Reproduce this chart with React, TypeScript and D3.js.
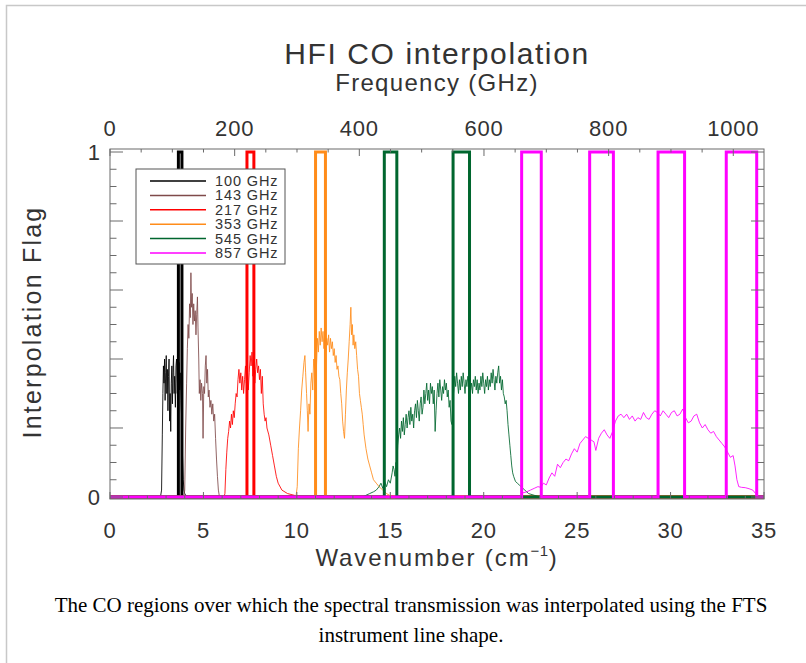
import * as d3 from "d3";

// wavenumber (cm^-1), transmission
const spec100: [number, number][] = [
  [2.7, 0], [2.76, 0.02], [2.8, 0.18], [2.83, 0.3], [2.86, 0.38], [2.89, 0.33], [2.92, 0.4], [2.95, 0.28],
  [2.98, 0.36], [3.01, 0.41], [3.04, 0.3], [3.07, 0.37], [3.1, 0.25], [3.13, 0.35], [3.16, 0.4], [3.19, 0.22],
  [3.22, 0.3], [3.25, 0.19], [3.28, 0.33], [3.31, 0.38], [3.34, 0.27], [3.37, 0.36], [3.4, 0.41], [3.43, 0.3],
  [3.46, 0.35], [3.5, 0.26], [3.53, 0.38], [3.56, 0.4], [3.6, 0.3], [3.63, 0.37], [3.66, 0.33], [3.7, 0.39],
  [3.73, 0.31], [3.76, 0.36], [3.8, 0.28], [3.84, 0.22], [3.88, 0.12], [3.92, 0.05], [3.96, 0.02], [4.0, 0.01], [4.1, 0],
];
const spec143: [number, number][] = [
  [3.95, 0], [4.0, 0.02], [4.05, 0.2], [4.1, 0.33], [4.14, 0.43], [4.18, 0.5], [4.22, 0.46], [4.26, 0.56],
  [4.3, 0.52], [4.33, 0.65], [4.36, 0.55], [4.4, 0.59], [4.44, 0.5], [4.48, 0.56], [4.52, 0.51], [4.56, 0.54],
  [4.6, 0.47], [4.64, 0.53], [4.68, 0.58], [4.71, 0.49], [4.75, 0.4], [4.78, 0.3], [4.82, 0.34], [4.86, 0.28],
  [4.9, 0.33], [4.95, 0.3], [4.98, 0.17], [5.02, 0.32], [5.06, 0.3], [5.1, 0.38], [5.14, 0.41], [5.18, 0.33],
  [5.22, 0.37], [5.26, 0.29], [5.3, 0.31], [5.35, 0.26], [5.4, 0.28], [5.45, 0.24], [5.5, 0.27], [5.55, 0.22],
  [5.6, 0.24], [5.65, 0.17], [5.7, 0.11], [5.75, 0.06], [5.8, 0.02], [5.86, 0],
];
const spec217: [number, number][] = [
  [6.1, 0], [6.15, 0.01], [6.2, 0.08], [6.25, 0.13], [6.3, 0.17], [6.35, 0.19], [6.4, 0.22], [6.45, 0.2],
  [6.5, 0.24], [6.55, 0.21], [6.6, 0.25], [6.65, 0.23], [6.7, 0.27], [6.75, 0.3], [6.8, 0.29], [6.85, 0.34],
  [6.9, 0.37], [6.95, 0.33], [7.0, 0.36], [7.05, 0.31], [7.1, 0.35], [7.15, 0.3], [7.2, 0.34], [7.25, 0.38],
  [7.3, 0.33], [7.35, 0.37], [7.4, 0.31], [7.45, 0.36], [7.5, 0.41], [7.55, 0.38], [7.6, 0.42], [7.65, 0.35],
  [7.7, 0.39], [7.75, 0.33], [7.8, 0.37], [7.85, 0.4], [7.9, 0.36], [7.95, 0.38], [8.0, 0.34], [8.05, 0.37],
  [8.1, 0.3], [8.15, 0.35], [8.2, 0.27], [8.25, 0.24], [8.3, 0.22], [8.35, 0.23], [8.4, 0.2], [8.5, 0.18],
  [8.6, 0.15], [8.7, 0.12], [8.8, 0.09], [8.9, 0.06], [9.0, 0.04], [9.2, 0.02], [9.5, 0.01], [10.0, 0.003], [10.5, 0],
];
const spec353: [number, number][] = [
  [9.95, 0], [10.02, 0.03], [10.08, 0.14], [10.14, 0.2], [10.2, 0.25], [10.26, 0.31], [10.32, 0.35], [10.38, 0.39],
  [10.43, 0.41], [10.47, 0.36], [10.52, 0.3], [10.56, 0.25], [10.6, 0.19], [10.65, 0.27], [10.7, 0.24], [10.75, 0.33],
  [10.8, 0.36], [10.85, 0.31], [10.9, 0.4], [10.95, 0.37], [11.0, 0.43], [11.05, 0.38], [11.1, 0.46], [11.15, 0.42],
  [11.2, 0.48], [11.25, 0.44], [11.3, 0.49], [11.35, 0.45], [11.4, 0.48], [11.45, 0.43], [11.5, 0.47], [11.55, 0.42],
  [11.6, 0.46], [11.65, 0.44], [11.7, 0.47], [11.75, 0.42], [11.8, 0.46], [11.85, 0.43], [11.9, 0.45], [11.95, 0.41],
  [12.0, 0.43], [12.05, 0.39], [12.1, 0.41], [12.15, 0.37], [12.2, 0.38], [12.25, 0.35], [12.3, 0.34], [12.35, 0.3],
  [12.4, 0.27], [12.45, 0.22], [12.5, 0.19], [12.55, 0.17], [12.6, 0.24], [12.65, 0.31], [12.7, 0.36], [12.75, 0.4],
  [12.8, 0.45], [12.85, 0.5], [12.89, 0.55], [12.93, 0.47], [12.97, 0.5], [13.01, 0.44], [13.05, 0.47], [13.1, 0.43],
  [13.15, 0.45], [13.2, 0.41], [13.25, 0.37], [13.3, 0.35], [13.35, 0.3], [13.4, 0.28], [13.45, 0.26], [13.5, 0.24],
  [13.55, 0.21], [13.6, 0.18], [13.7, 0.14], [13.8, 0.11], [13.9, 0.09], [14.0, 0.07], [14.1, 0.05], [14.25, 0.04],
  [14.4, 0.03], [14.6, 0.02], [14.8, 0.01], [15.1, 0],
];
const spec545: [number, number][] = [
  [13.5, 0], [13.7, 0.005], [13.9, 0.01], [14.1, 0.015], [14.25, 0.02], [14.4, 0.03], [14.5, 0.04], [14.6, 0.025],
  [14.7, 0.045], [14.8, 0.03], [14.9, 0.05], [15.0, 0.04], [15.1, 0.07], [15.15, 0.09], [15.2, 0.08], [15.25, 0.06],
  [15.3, 0.1], [15.35, 0.09], [15.4, 0.15], [15.45, 0.18], [15.5, 0.2], [15.55, 0.17], [15.6, 0.22], [15.65, 0.19],
  [15.7, 0.23], [15.75, 0.18], [15.8, 0.21], [15.85, 0.24], [15.9, 0.2], [15.95, 0.23], [16.0, 0.25], [16.05, 0.21],
  [16.1, 0.26], [16.15, 0.22], [16.2, 0.24], [16.25, 0.2], [16.3, 0.25], [16.35, 0.27], [16.4, 0.23], [16.45, 0.28],
  [16.5, 0.25], [16.55, 0.22], [16.6, 0.27], [16.65, 0.29], [16.7, 0.24], [16.75, 0.26], [16.8, 0.31], [16.85, 0.27],
  [16.9, 0.3], [16.95, 0.33], [17.0, 0.28], [17.05, 0.31], [17.1, 0.27], [17.15, 0.33], [17.2, 0.3], [17.25, 0.32],
  [17.3, 0.27], [17.35, 0.31], [17.4, 0.19], [17.45, 0.25], [17.5, 0.3], [17.55, 0.33], [17.6, 0.29], [17.65, 0.34],
  [17.7, 0.31], [17.75, 0.28], [17.8, 0.32], [17.85, 0.3], [17.9, 0.34], [17.95, 0.31], [18.0, 0.33], [18.05, 0.29],
  [18.1, 0.31], [18.15, 0.26], [18.2, 0.28], [18.25, 0.22], [18.3, 0.21], [18.35, 0.28], [18.4, 0.31], [18.45, 0.35],
  [18.5, 0.32], [18.55, 0.36], [18.6, 0.33], [18.65, 0.3], [18.7, 0.34], [18.75, 0.31], [18.8, 0.35], [18.85, 0.32],
  [18.9, 0.36], [18.95, 0.33], [19.0, 0.3], [19.05, 0.34], [19.1, 0.32], [19.15, 0.35], [19.2, 0.33], [19.25, 0.36],
  [19.3, 0.31], [19.35, 0.33], [19.4, 0.3], [19.45, 0.34], [19.5, 0.32], [19.55, 0.35], [19.6, 0.31], [19.65, 0.34],
  [19.7, 0.3], [19.75, 0.33], [19.8, 0.31], [19.85, 0.35], [19.9, 0.32], [19.95, 0.36], [20.0, 0.33], [20.05, 0.3],
  [20.1, 0.34], [20.15, 0.32], [20.2, 0.35], [20.25, 0.31], [20.3, 0.34], [20.35, 0.32], [20.4, 0.36], [20.45, 0.33],
  [20.5, 0.37], [20.55, 0.34], [20.6, 0.31], [20.65, 0.35], [20.7, 0.33], [20.75, 0.36], [20.8, 0.38], [20.85, 0.33],
  [20.9, 0.35], [20.95, 0.31], [21.0, 0.34], [21.05, 0.3], [21.1, 0.29], [21.15, 0.27], [21.2, 0.28], [21.25, 0.25],
  [21.3, 0.21], [21.35, 0.18], [21.4, 0.15], [21.45, 0.12], [21.5, 0.09], [21.55, 0.07], [21.6, 0.06], [21.7, 0.045],
  [21.8, 0.04], [21.9, 0.035], [22.0, 0.03], [22.2, 0.02], [22.4, 0.01], [22.7, 0.005], [23.0, 0],
];
const spec857: [number, number][] = [
  [21.95, 0], [22.1, 0.012], [22.3, 0.015], [22.5, 0.02], [22.7, 0.025], [22.9, 0.03], [23.05, 0.028], [23.2, 0.04],
  [23.35, 0.035], [23.5, 0.055], [23.65, 0.07], [23.8, 0.06], [23.95, 0.095], [24.1, 0.085], [24.25, 0.1], [24.4, 0.11],
  [24.55, 0.105], [24.7, 0.125], [24.85, 0.14], [25.0, 0.13], [25.15, 0.155], [25.3, 0.165], [25.45, 0.175], [25.6, 0.17],
  [25.75, 0.165], [25.9, 0.16], [26.0, 0.135], [26.15, 0.17], [26.3, 0.185], [26.45, 0.195], [26.6, 0.18], [26.75, 0.17],
  [26.9, 0.19], [27.05, 0.22], [27.2, 0.235], [27.35, 0.24], [27.5, 0.23], [27.65, 0.24], [27.8, 0.225], [27.95, 0.235],
  [28.1, 0.22], [28.25, 0.23], [28.4, 0.225], [28.55, 0.245], [28.7, 0.23], [28.85, 0.225], [29.0, 0.24], [29.15, 0.25],
  [29.3, 0.245], [29.45, 0.235], [29.6, 0.25], [29.75, 0.24], [29.9, 0.23], [30.05, 0.245], [30.2, 0.25], [30.35, 0.235],
  [30.5, 0.24], [30.65, 0.255], [30.8, 0.23], [30.95, 0.215], [31.1, 0.22], [31.25, 0.235], [31.4, 0.24], [31.55, 0.215],
  [31.7, 0.2], [31.85, 0.21], [32.0, 0.195], [32.15, 0.185], [32.3, 0.19], [32.45, 0.175], [32.6, 0.165], [32.75, 0.155],
  [32.9, 0.145], [33.05, 0.13], [33.2, 0.115], [33.35, 0.12], [33.45, 0.09], [33.55, 0.05], [33.65, 0.03], [33.8, 0.028],
  [34.0, 0.027], [34.2, 0.024], [34.4, 0.02], [34.55, 0.01], [34.7, 0],
];

// CO interpolation windows (cm^-1)
const flag100: [number, number][] = [[3.66, 3.85]];
const flag143: [number, number][] = [];
const flag217: [number, number][] = [[7.33, 7.7]];
const flag353: [number, number][] = [[11.0, 11.53]];
const flag545: [number, number][] = [[14.68, 15.35], [18.36, 19.24]];
const flag857: [number, number][] = [[22.03, 23.08], [25.67, 26.94], [29.33, 30.75], [32.98, 34.61]];

const bandNames = ["100 GHz", "143 GHz", "217 GHz", "353 GHz", "545 GHz", "857 GHz"];
const bandColors = ["#000000", "#7f4a4a", "#ff0000", "#ff8c1a", "#00662e", "#ff00ff"];
const spectra = [spec100, spec143, spec217, spec353, spec545, spec857];
const flags = [flag100, flag143, flag217, flag353, flag545, flag857];

const GHZ_PER_CM = 29.9792458;
const WN_MAX = 35;

const font = "'Liberation Sans', Arial, sans-serif";
const serif = "'Liberation Serif', 'Times New Roman', serif";
const ink = "#333";
const axisCol = "#6a6a6a";

export default function App() {
  const W = 806;
  const H = 663;
  const left = 110, right = 764, top = 149, bottom = 499;

  const x = d3.scaleLinear().domain([0, WN_MAX]).range([left, right]);
  const xTop = d3.scaleLinear().domain([0, WN_MAX * GHZ_PER_CM]).range([left, right]);
  const y = d3.scaleLinear().domain([-0.0058, 1.0087]).range([bottom, top]);

  const line = d3.line<[number, number]>().x((d) => x(d[0])).y((d) => y(d[1]));

  // step line: 0 everywhere, 1 inside each window
  const flagPath = (ivs: [number, number][]) => {
    const pts: [number, number][] = [[0, 0]];
    ivs.forEach(([a, b]) => {
      pts.push([a, 0], [a, 1], [b, 1], [b, 0]);
    });
    pts.push([WN_MAX, 0]);
    return line(pts) as string;
  };

  const xMajor = d3.range(0, WN_MAX + 0.01, 5);
  const xMinor = d3.range(0, WN_MAX + 0.01, 1);
  const fMajor = d3.range(0, 1001, 200);
  const fMinor = d3.range(0, WN_MAX * GHZ_PER_CM, 50);
  const yMajor = d3.range(0, 1.001, 0.2);
  const yMinor = d3.range(0, 1.001, 0.05);

  const xTickLen = 7, yTickLen = 13;

  const legX = 136, legY = 169, legW = 149, legH = 95;
  const rowY = (i: number) => 181 + i * 14.4;

  return (
    <svg width={W} height={H} style={{ position: "absolute", left: 0, top: 0, background: "#fff" }}>
      {/* thumbnail border */}
      <path d={`M6.5,${H} V5.5 H${W}`} fill="none" stroke="#c8c8c8" strokeWidth={1.5} />

      {/* titles */}
      <text x={437} y={64} textAnchor="middle" fontFamily={font} fontSize={30} letterSpacing={1.6} fill={ink}>
        HFI CO interpolation
      </text>
      <text x={437} y={91} textAnchor="middle" fontFamily={font} fontSize={24} letterSpacing={1.3} fill={ink}>
        Frequency (GHz)
      </text>

      {/* spectra + flags */}
      {spectra.map((s, i) => (
        <g key={i}>
          <path d={line(s) as string} fill="none" stroke={bandColors[i]} strokeWidth={1} strokeOpacity={0.85} />
          {flags[i].length > 0 && (
            <path d={flagPath(flags[i])} fill="none" stroke={bandColors[i]} strokeWidth={3} strokeLinejoin="miter" />
          )}
        </g>
      ))}

      {/* frame */}
      <rect x={left} y={top} width={right - left} height={bottom - top} fill="none" stroke={axisCol} strokeWidth={1} />

      {/* ticks */}
      {xMinor.map((v) => (
        <line key={"xb" + v} x1={x(v)} x2={x(v)} y1={bottom} y2={bottom - (v % 5 === 0 ? xTickLen : xTickLen / 2)} stroke={axisCol} />
      ))}
      {fMinor.map((v) => (
        <line key={"xt" + v} x1={xTop(v)} x2={xTop(v)} y1={top} y2={top + (v % 200 === 0 ? xTickLen : xTickLen / 2)} stroke={axisCol} />
      ))}
      {yMinor.map((v, i) => {
        const len = i % 4 === 0 ? yTickLen : yTickLen / 2;
        return (
          <g key={"y" + i} stroke={axisCol}>
            <line x1={left} x2={left + len} y1={y(v)} y2={y(v)} />
            <line x1={right} x2={right - len} y1={y(v)} y2={y(v)} />
          </g>
        );
      })}

      {xMajor.map((v) => (
        <text key={"xl" + v} x={x(v)} y={538} textAnchor="middle" fontFamily={font} fontSize={22} letterSpacing={0.8} fill={ink}>
          {v}
        </text>
      ))}
      {fMajor.map((v) => (
        <text key={"fl" + v} x={xTop(v)} y={136} textAnchor="middle" fontFamily={font} fontSize={22} letterSpacing={0.8} fill={ink}>
          {v}
        </text>
      ))}
      {yMajor
        .filter((v) => v < 0.01 || v > 0.99)
        .map((v) => (
          <text key={"yl" + v} x={100} y={y(v) + 8} textAnchor="end" fontFamily={font} fontSize={22} fill={ink}>
            {Math.round(v)}
          </text>
        ))}

      {/* axis titles */}
      <text x={437} y={566} textAnchor="middle" fontFamily={font} fontSize={24} letterSpacing={1.9} fill={ink}>
        Wavenumber (cm<tspan dy={-10} fontSize={15} letterSpacing={0.5}>−1</tspan>
        <tspan dy={10}>)</tspan>
      </text>
      <text
        transform={`translate(41,${(top + bottom) / 2 - 2}) rotate(-90)`}
        textAnchor="middle"
        fontFamily={font}
        fontSize={25}
        letterSpacing={2.2}
        fill={ink}
      >
        Interpolation Flag
      </text>

      {/* legend */}
      <rect x={legX} y={legY} width={legW} height={legH} fill="#fff" stroke="#555" strokeWidth={1} />
      {bandNames.map((n, i) => (
        <g key={n}>
          <line x1={150} x2={206} y1={rowY(i)} y2={rowY(i)} stroke={bandColors[i]} strokeWidth={1.5} />
          <text x={215} y={rowY(i) + 5} fontFamily={font} fontSize={14.5} letterSpacing={0.9} fill={ink}>
            {n}
          </text>
        </g>
      ))}

      {/* caption */}
      <text x={411} y={612} textAnchor="middle" fontFamily={serif} fontSize={21} fill="#000">
        The CO regions over which the spectral transmission was interpolated using the FTS
      </text>
      <text x={411} y={642} textAnchor="middle" fontFamily={serif} fontSize={21} fill="#000">
        instrument line shape.
      </text>
    </svg>
  );
}
